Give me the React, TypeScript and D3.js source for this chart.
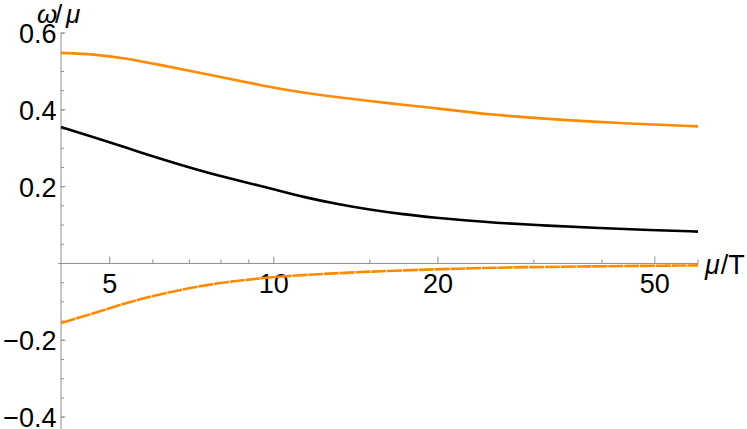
import React from "react";
import * as d3 from "d3";

const upperX = [4.07, 4.67, 5.37, 6.18, 7.11, 8.19, 9.43, 10.25, 11.32, 13.03, 15.0, 17.26, 19.87, 22.87, 24.89, 31.6, 41.9, 60];
const upperY = [0.548, 0.545, 0.534, 0.517, 0.5, 0.482, 0.465, 0.455, 0.445, 0.433, 0.423, 0.413, 0.404, 0.394, 0.388, 0.376, 0.366, 0.357];

const blackX = [4.07, 4.67, 5.37, 6.18, 7.11, 8.19, 9.43, 10.25, 11.32, 13.03, 15.0, 17.26, 19.87, 22.87, 24.89, 32.06, 39.6, 48.9, 60];
const blackY = [0.355, 0.329, 0.301, 0.273, 0.247, 0.223, 0.202, 0.189, 0.173, 0.155, 0.14, 0.128, 0.119, 0.111, 0.107, 0.098, 0.092, 0.087, 0.083];

const lowerX = [4.07, 4.67, 5.37, 6.18, 7.11, 8.19, 9.43, 10.0, 12.0, 15.0, 20.0, 25.0, 35.0, 60];
const lowerY = [-0.155, -0.13, -0.102, -0.08, -0.062, -0.048, -0.039, -0.035, -0.028, -0.021, -0.015, -0.011, -0.008, -0.005];

const xMajorTicks = [5, 10, 20, 50];
const xMinorTicks = [6, 7, 8, 9, 15, 30, 40, 60];
const yMajorTicks = [-0.4, -0.2, 0.2, 0.4, 0.6];
const yMinorTicks = [-0.4, -0.35, -0.3, -0.25, -0.2, -0.15, -0.1, -0.05, 0.05, 0.1, 0.15, 0.2, 0.25, 0.3, 0.35, 0.4, 0.45, 0.5, 0.55, 0.6];

const W = 747;
const H = 429;
const ORANGE = "#ff8a00";
const AXIS = "#8f8f8f";
const FONT = "'Liberation Sans', Arial, sans-serif";

export default function App() {
  const x = d3.scaleLog().domain([4.07, 60]).range([61, 698]);
  const y = d3.scaleLinear().domain([-0.431, 0.6]).range([429, 33]);
  const line = d3
    .line<[number, number]>()
    .x((d) => x(d[0]))
    .y((d) => y(d[1]))
    .curve(d3.curveBasis);
  const zip = (a: number[], b: number[]) => a.map((v, i) => [v, b[i]] as [number, number]);
  const x0 = x.range()[0];
  const y0 = y(0);
  const fmt = (v: number) => (v < 0 ? "\u2212" : "") + Math.abs(v).toFixed(1);

  return (
    <svg width={W} height={H} style={{ position: "absolute", left: 0, top: 0, background: "#fff" }} fontFamily={FONT}>
      {/* axes */}
      <line x1={x0} x2={x0} y1={y(0.6)} y2={H} stroke={AXIS} strokeWidth={1} />
      <line x1={58} x2={698} y1={y0} y2={y0} stroke={AXIS} strokeWidth={1} />
      {yMinorTicks.map((t) => (
        <line key={"ym" + t} x1={x0} x2={x0 + 3} y1={y(t)} y2={y(t)} stroke={AXIS} strokeWidth={1} />
      ))}
      {yMajorTicks.map((t) => (
        <line key={"yM" + t} x1={x0} x2={x0 + 4.5} y1={y(t)} y2={y(t)} stroke={AXIS} strokeWidth={1} />
      ))}
      {xMinorTicks.map((t) => (
        <line key={"xm" + t} x1={x(t)} x2={x(t)} y1={y0} y2={y0 - 4} stroke={AXIS} strokeWidth={1} />
      ))}
      {xMajorTicks.map((t) => (
        <line key={"xM" + t} x1={x(t)} x2={x(t)} y1={y0} y2={y0 - 7} stroke={AXIS} strokeWidth={1} />
      ))}
      {/* tick labels */}
      {yMajorTicks.map((t) => (
        <text key={"yl" + t} x={56.5} y={y(t) + 10} textAnchor="end" fontSize={27} fill="#000">
          {fmt(t)}
        </text>
      ))}
      {xMajorTicks.map((t) => (
        <text key={"xl" + t} x={x(t)} y={y0 + 29.7} textAnchor="middle" fontSize={27} fill="#000">
          {t}
        </text>
      ))}
      {/* axis labels */}
      <text x={37} y={23} fontSize={26} fill="#000" fontStyle="italic">ω</text>
      <text x={55} y={23} fontSize={26} fill="#000">/</text>
      <text x={66} y={23} fontSize={26} fill="#000" fontStyle="italic">μ</text>
      <text x={705} y={274} fontSize={27} fill="#000">
        <tspan fontStyle="italic">μ</tspan>
        <tspan dx={1}>/T</tspan>
      </text>
      {/* curves */}
      <path d={line(zip(upperX, upperY)) || ""} fill="none" stroke={ORANGE} strokeWidth={2.6} />
      <path d={line(zip(blackX, blackY)) || ""} fill="none" stroke="#000" strokeWidth={2.6} />
      <path d={line(zip(lowerX, lowerY)) || ""} fill="none" stroke={ORANGE} strokeWidth={2.6} strokeDasharray="15 0.8" />
    </svg>
  );
}
